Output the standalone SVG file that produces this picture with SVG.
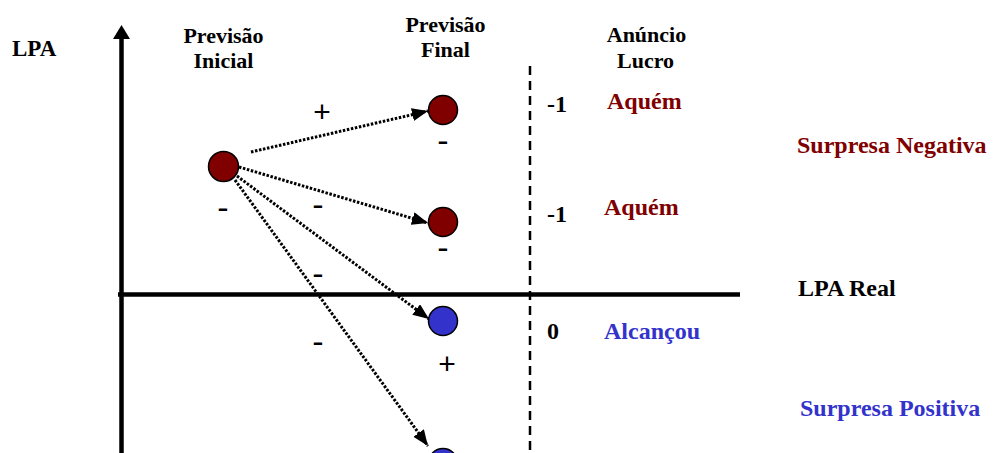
<svg xmlns="http://www.w3.org/2000/svg" width="994" height="453" viewBox="0 0 994 453">
<style>
.t{font-family:"Liberation Serif","Times New Roman",serif;font-weight:bold;fill:#000}
.h{font-size:22px;text-anchor:middle}
.lbl{font-size:24px}
.red{fill:#800000}
.blue{fill:#3333CC}
.sg{font-family:"Liberation Sans",Arial,sans-serif;fill:#000;text-anchor:middle}
.minus{font-size:34px}
.plus{font-size:30px}
.nr{fill:#800000;stroke:#000;stroke-width:1.5}
.nb{fill:#3333CC;stroke:#000;stroke-width:1.5}
.dot{fill:none;stroke:#000;stroke-width:3;stroke-dasharray:2.5 1.6;marker-end:url(#ah)}
</style>
<defs>
<marker id="ah" markerUnits="userSpaceOnUse" markerWidth="17" markerHeight="14" refX="16" refY="6.5" orient="auto">
<path d="M0,0 L16,6.5 L0,13 z" fill="#000"/>
</marker>
</defs>
<g id="axes">
<line x1="121.5" y1="453" x2="121.5" y2="36" stroke="#000" stroke-width="4.5"/>
<path d="M113,39 L121.5,25 L130,39 z" fill="#000"/>
<line x1="118" y1="294.5" x2="740" y2="294.5" stroke="#000" stroke-width="4.5"/>
<line x1="530" y1="66" x2="530" y2="453" stroke="#000" stroke-width="2.5" stroke-dasharray="9 6"/>
</g>
<g id="labels">
<text class="t" x="12" y="56" font-size="23">LPA</text>
<text class="t h" x="223.5" y="43">Previsão</text>
<text class="t h" x="223.5" y="68">Inicial</text>
<text class="t h" x="445.5" y="32">Previsão</text>
<text class="t h" x="445.5" y="57">Final</text>
<text class="t h" x="646.5" y="42">Anúncio</text>
<text class="t h" x="645.5" y="68">Lucro</text>
<text class="t lbl" x="547" y="112">-1</text>
<text class="t lbl" x="547" y="222">-1</text>
<text class="t lbl" x="547" y="339">0</text>
<text class="t lbl red" x="607" y="109">Aquém</text>
<text class="t lbl red" x="604" y="215">Aquém</text>
<text class="t lbl blue" x="604" y="339">Alcançou</text>
<text class="t lbl red" x="797" y="153">Surpresa Negativa</text>
<text class="t lbl" x="798" y="296">LPA Real</text>
<text class="t lbl blue" x="800" y="416">Surpresa Positiva</text>
</g>
<g id="signs">
<text class="sg plus" x="322" y="122">+</text>
<text class="sg minus" x="443" y="152">-</text>
<text class="sg minus" x="223" y="219">-</text>
<text class="sg minus" x="318" y="216">-</text>
<text class="sg minus" x="443" y="259">-</text>
<text class="sg minus" x="318" y="285">-</text>
<text class="sg minus" x="318" y="353">-</text>
<text class="sg plus" x="447" y="374">+</text>
</g>
<g id="connectors">
<line class="dot" x1="251" y1="152" x2="428" y2="111"/>
<line class="dot" x1="239" y1="167" x2="428" y2="223"/>
<line class="dot" x1="237" y1="176" x2="429" y2="319"/>
<line class="dot" x1="235" y1="180" x2="428" y2="446"/>
</g>
<g id="node-inicial"><circle class="nr" cx="223.5" cy="166.5" r="15"/></g>
<g id="node-final-1"><circle class="nr" cx="443" cy="110" r="14.5"/></g>
<g id="node-final-2"><circle class="nr" cx="443" cy="222" r="14.5"/></g>
<g id="node-final-3"><circle class="nb" cx="443" cy="321" r="14.5"/></g>
<g id="node-final-4"><circle class="nb" cx="443" cy="463" r="14.5"/></g>
</svg>
